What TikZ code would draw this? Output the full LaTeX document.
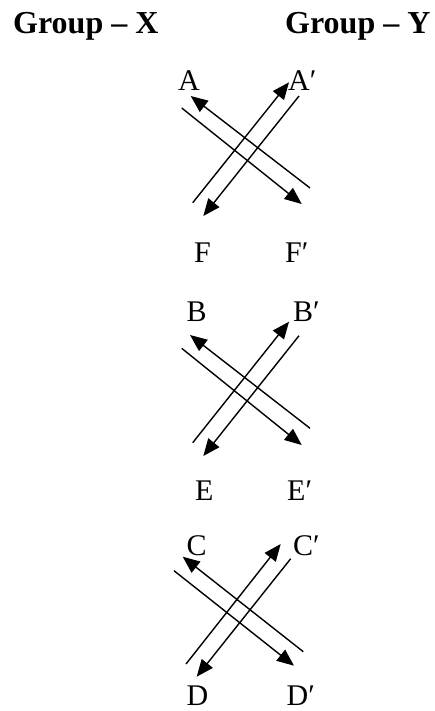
\documentclass[tikz,border=0pt]{standalone}
\usepackage{fontspec}
\setmainfont{Liberation Serif}
\usetikzlibrary{arrows.meta}
\tikzset{
  lbl/.style={anchor=base west, inner sep=0pt, font=\fontsize{30}{30}\selectfont},
  head/.style={anchor=base west, inner sep=0pt, font=\fontsize{32}{32}\selectfont\bfseries},
  arr/.style={line width=1.4pt, -{Triangle[length=17pt,width=14pt]}}
}
\begin{document}
\begin{tikzpicture}[x=1pt,y=-1pt]
\useasboundingbox (0,0) rectangle (435,711);
% headings
\node[head] (gx) at (13,33.5) {Group – X};
\node[head] (gy) at (285,33.5) {Group – Y};
% labels
\node[lbl] (A)  at (178,91) {A};
\node[lbl] (Ap) at (288,91) {A′};
\node[lbl] (F)  at (194,262) {F};
\node[lbl] (Fp) at (285,262) {F′};
\node[lbl] (B)  at (186.5,321.5) {B};
\node[lbl] (Bp) at (293,321.5) {B′};
\node[lbl] (E)  at (195,500) {E};
\node[lbl] (Ep) at (287,500) {E′};
\node[lbl] (C)  at (186.5,555) {C};
\node[lbl] (Cp) at (293,555) {C′};
\node[lbl] (D)  at (186.5,705.5) {D};
\node[lbl] (Dp) at (286.5,705.5) {D′};
% group 1 endpoints
\coordinate (a1s) at (310,188);   \coordinate (a1e) at (190.7,96);
\coordinate (a2s) at (181.7,108); \coordinate (a2e) at (301.7,204);
\coordinate (a3s) at (192.7,202.7); \coordinate (a3e) at (289,82.3);
\coordinate (a4s) at (299,96);    \coordinate (a4e) at (203.3,216);
% group 2 endpoints
\coordinate (b1s) at (310,428.3); \coordinate (b1e) at (190,335);
\coordinate (b2s) at (181.7,348.3); \coordinate (b2e) at (301.7,445);
\coordinate (b3s) at (192.7,442.7); \coordinate (b3e) at (289,321.7);
\coordinate (b4s) at (299,335.7); \coordinate (b4e) at (203.3,456);
% group 3 endpoints
\coordinate (c1s) at (303.3,651.7); \coordinate (c1e) at (182.7,556.7);
\coordinate (c2s) at (174,570.7); \coordinate (c2e) at (294,665.7);
\coordinate (c3s) at (186,664);   \coordinate (c3e) at (280.7,544);
\coordinate (c4s) at (290.7,558.7); \coordinate (c4e) at (196.7,676.7);
% arrows
\foreach \g in {a,b,c}{
  \foreach \i in {1,2,3,4}{
    \draw[arr] (\g\i s) -- (\g\i e);
  }
}
\end{tikzpicture}
\end{document}
